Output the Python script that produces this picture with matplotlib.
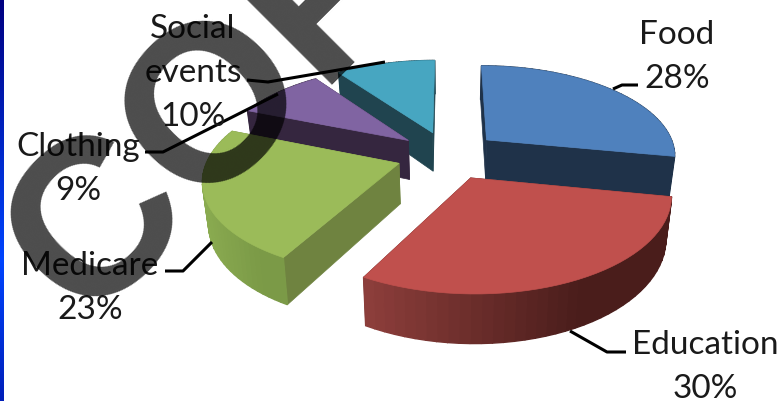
"""Household spending shares as an exploded 3D pie with a COPY stamp across it."""

import matplotlib
matplotlib.use("Agg")
import matplotlib.pyplot as plt
import numpy as np
from matplotlib.colors import to_rgb

NAMES = ["Food", "Education", "Medicare", "Clothing", "Social\nevents"]
SHARES = [28, 30, 23, 9, 10]
TOP_COLORS = ["#4f81bd", "#c0504d", "#9bbb59", "#8064a2", "#47a6c1"]
WALL_COLORS = ["#1f3249", "#4e1f1c", "#6f8340", "#35263f", "#20444f"]
RIM_LEFT = ["#1f3249", "#8f3f3c", "#8aab50", "#35263f", "#20444f"]
RIM_RIGHT = ["#1f3249", "#4a1d1b", "#7b9a47", "#35263f", "#20444f"]

# pie placement on the canvas, in pixels, and the camera model
CX, CY = 448, 156
RX, RY = 190, 90
TILT = 0.156
EXPLODE = 0.27
DEPTH = 40
BASE_SHRINK = 0.975
DRAW_ORDER = [4, 3, 0, 2, 1]

# label centres and leader lines, in pixels
LABEL_POS = [(677, 57), (705, 367), (90, 288), (78, 169), (193, 73)]
LEADERS = [
    [(613, 90), (622, 86), (638, 86)],
    [(570, 332), (607, 353), (626, 353)],
    [(165, 272), (183, 272), (212, 243)],
    [(145, 153), (163, 153), (278, 95)],
    [(247, 81), (268, 83), (385, 63)],
]


def project(u, v, base=False):
    s = 1.0 / (1.0 + TILT * v)
    sx = RX * u * s
    if base:
        sx = sx * BASE_SHRINK
    sy = CY - RY * v * s + (DEPTH * s if base else 0)
    return CX + sx, sy


def main():
    fig = plt.figure(figsize=(7.84, 4.02), dpi=100)
    ax = fig.add_axes([0, 0, 1, 1])

    # blue slide edge down the left side
    edge = np.interp(np.linspace(0, 1, 200), [0, 0.65, 1], [0, 1, 0.45])[:, None]
    edge_rgb = np.zeros((200, 1, 3))
    edge_rgb[..., 1] = (edge * 0.27)
    edge_rgb[..., 2] = (0.5 + edge * 0.5)
    ax.imshow(edge_rgb, extent=[0, 4, 402, 0], aspect="auto", zorder=1)

    ends = np.cumsum(SHARES) / np.sum(SHARES) * 2 * np.pi
    starts = np.r_[0, ends[:-1]]
    z = 2
    for i in DRAW_ORDER:
        t0, t1 = starts[i], ends[i]
        mid = (t0 + t1) / 2
        du, dv = EXPLODE * np.sin(mid), EXPLODE * np.cos(mid)
        t = np.linspace(t0, t1, 40)
        u, v = du + np.sin(t), dv + np.cos(t)
        xt, yt = project(u, v)
        xb, yb = project(u, v, base=True)
        ax_t, ay_t = project(du, dv)
        ax_b, ay_b = project(du, dv, base=True)

        # the cut faces, further one first
        walls = [(xt[0], yt[0], xb[0], yb[0]), (xt[-1], yt[-1], xb[-1], yb[-1])]
        walls.sort(key=lambda w: w[1])
        for x0, y0, x1, y1 in walls:
            ax.fill([ax_t, x0, x1, ax_b], [ay_t, y0, y1, ay_b],
                    color=WALL_COLORS[i], lw=0.5, zorder=z)

        # outer wall, shaded strip by strip
        left, right = np.array(to_rgb(RIM_LEFT[i])), np.array(to_rgb(RIM_RIGHT[i]))
        span = max(xt.max() - xt.min(), 1)
        for k in range(len(t) - 1):
            f = np.clip((xt[k] - xt.min()) / (span * 0.72), 0, 1)
            ax.fill([xt[k], xt[k + 1], xb[k + 1], xb[k]], [yt[k], yt[k + 1], yb[k + 1], yb[k]],
                    color=left + (right - left) * f, lw=1.0, zorder=z)

        ax.fill(np.r_[ax_t, xt], np.r_[ay_t, yt], color=TOP_COLORS[i], lw=0.5, zorder=z)
        z += 1

    for pts in LEADERS:
        xs, ys = zip(*pts)
        ax.plot(xs, ys, color="black", lw=2.2, solid_capstyle="butt", zorder=10)

    for name, share, (x, y) in zip(NAMES, SHARES, LABEL_POS):
        ax.text(x, y, f"{name}\n{share}%", family="Lato", fontsize=24, color="#1a1a1a",
                ha="center", va="center", linespacing=1.58, zorder=11)

    ax.text(266, 60, "COPY", family="Liberation Sans", weight="bold", fontsize=160,
            color="black", alpha=0.7, rotation=45, rotation_mode="anchor",
            ha="center", va="center", zorder=12)

    ax.set_xlim(0, 784)
    ax.set_ylim(402, 0)
    ax.axis("off")
    fig.savefig("out.png", dpi=100)


if __name__ == "__main__":
    main()
